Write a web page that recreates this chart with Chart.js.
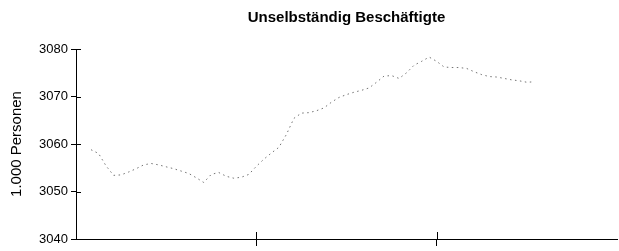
<!DOCTYPE html>
<html>
<head>
<meta charset="utf-8">
<script src="https://cdn.jsdelivr.net/npm/chart.js@4.4.1/dist/chart.umd.min.js"></script>
<style>
  html, body { margin: 0; padding: 0; background: #fff; }
  #wrap { width: 619px; height: 251px; }
</style>
</head>
<body>
<div id="wrap"><canvas id="c" width="619" height="251"></canvas></div>
<script>
// Half-month periods over three years (73 slots incl. both ends); ticks at year boundaries
const periodLabels = Array.from({length: 73}, (_, i) => 'P' + i);
const yearTickIndexes = [24, 48];
const yTicks = [3040, 3050, 3060, 3070, 3080];

// Unselbständig Beschäftigte (1.000 Personen)
const employed = [
  null, null,
  3058.8, 3058.0, 3055.4, 3053.4, 3053.5, 3054.1, 3054.8, 3055.6, 3055.9, 3055.6,
  3055.2, 3054.8, 3054.3, 3053.8, 3052.9, 3051.9, 3053.6, 3054.0, 3053.2, 3052.8,
  3053.0, 3053.6, 3055.3, 3056.8, 3058.1, 3059.3, 3062.0, 3065.4, 3066.5, 3066.6,
  3067.0, 3067.6, 3068.8, 3069.8, 3070.4, 3070.9, 3071.3, 3071.8, 3073.0, 3074.3,
  3074.4, 3073.8, 3075.0, 3076.6, 3077.4, 3078.3, 3077.4, 3076.2, 3076.1, 3076.1,
  3075.9, 3075.2, 3074.6, 3074.2, 3074.1, 3073.8, 3073.5, 3073.3, 3073.0, 3073.1,
  null, null, null, null, null, null, null, null, null, null, null
];

const crossTicks = {
  id: 'crossTicks',
  afterDraw(chart) {
    const ctx = chart.ctx, ca = chart.chartArea;
    const xs = chart.scales.x, ys = chart.scales.y;
    ctx.save();
    ctx.strokeStyle = '#000';
    ctx.lineWidth = 1;
    ctx.beginPath();
    ys.ticks.forEach((t, i) => {
      const y = Math.round(ys.getPixelForTick(i)) + 0.5;
      ctx.moveTo(ca.left, y); ctx.lineTo(ca.left + 5, y);
    });
    yearTickIndexes.forEach(i => {
      const x = Math.round(xs.getPixelForValue(i)) + 0.5;
      ctx.moveTo(x, ca.bottom); ctx.lineTo(x, ca.bottom - 7);
    });
    ctx.stroke();
    ctx.restore();
  }
};

new Chart(document.getElementById('c'), {
  type: 'line',
  data: {
    labels: periodLabels,
    datasets: [{
      data: employed,
      borderColor: 'rgba(80,80,80,0.8)',
      borderWidth: 1,
      borderDash: [1.5, 3.5],
      pointRadius: 0,
      tension: 0,
      spanGaps: false
    }]
  },
  options: {
    responsive: false,
    animation: false,
    devicePixelRatio: 1,
    layout: { padding: { left: 0, right: 2, top: 0, bottom: 0 } },
    plugins: {
      legend: { display: false },
      tooltip: { enabled: false },
      title: {
        display: true,
        text: 'Unselbständig Beschäftigte',
        fullSize: false,
        color: '#000',
        font: { family: 'Liberation Sans, Arial, sans-serif', size: 15, weight: 'bold' },
        padding: { top: 9, bottom: 22 }
      }
    },
    scales: {
      x: {
        type: 'category',
        offset: false,
        border: { display: true, color: '#000', width: 1 },
        grid: {
          display: true,
          drawOnChartArea: false,
          drawTicks: true,
          tickLength: 7,
          color: (c) => yearTickIndexes.includes(c.index) ? '#000' : 'rgba(0,0,0,0)'
        },
        ticks: { display: false, autoSkip: false },
        afterFit: (s) => { s.height = 12; }
      },
      y: {
        min: 3040,
        max: 3080,
        afterBuildTicks: (s) => { s.ticks = yTicks.map(v => ({ value: v })); },
        border: { display: true, color: '#000', width: 1 },
        grid: { drawOnChartArea: false, drawTicks: true, tickLength: 5, color: '#000' },
        ticks: {
          color: '#000',
          padding: 3,
          font: { family: 'Liberation Sans, Arial, sans-serif', size: 13 },
          callback: (v) => String(v)
        },
        title: {
          display: true,
          text: '1.000 Personen',
          color: '#000',
          font: { family: 'Liberation Sans, Arial, sans-serif', size: 15 },
          padding: { top: 8, bottom: 0 }
        },
        afterFit: (s) => { s.width = 76; }
      }
    }
  },
  plugins: [crossTicks]
});
</script>
</body>
</html>
